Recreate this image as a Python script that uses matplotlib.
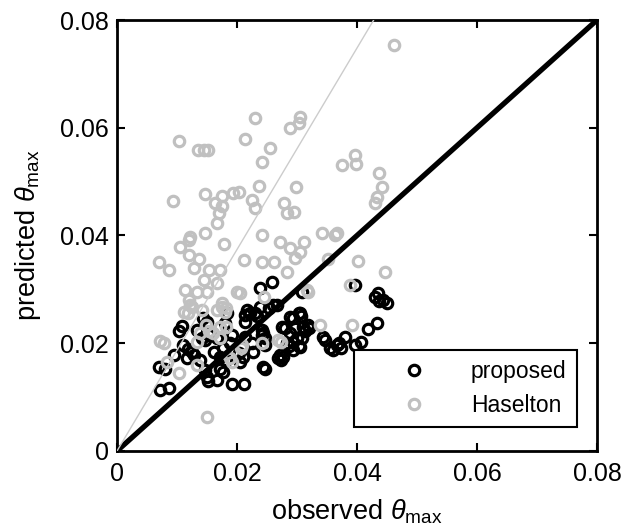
import matplotlib
matplotlib.use("Agg")
import matplotlib.pyplot as plt

plt.rcParams['font.family'] = ['Liberation Sans', 'DejaVu Sans']
plt.rcParams['mathtext.fontset'] = 'custom'
plt.rcParams['mathtext.rm'] = 'Liberation Sans'
plt.rcParams['mathtext.it'] = 'Liberation Sans:italic'

# proposed model (black)
prop_x = [0.0072, 0.0086, 0.0070, 0.0080, 0.0095, 0.0104, 0.0109, 0.0110, 0.0118, 0.0125,
          0.0117, 0.0128, 0.0138, 0.0143, 0.0150, 0.0133, 0.0141, 0.0154, 0.0147, 0.0161,
          0.0167, 0.0183, 0.0180, 0.0147, 0.0150, 0.0151, 0.0167, 0.0171, 0.0177, 0.0172,
          0.0181, 0.0177, 0.0188, 0.0191, 0.0191, 0.0212, 0.0205, 0.0210, 0.0203, 0.0213,
          0.0213, 0.0217, 0.0221, 0.0230, 0.0234, 0.0238, 0.0213, 0.0227, 0.0225, 0.0242,
          0.0242, 0.0244, 0.0247, 0.0243, 0.0247, 0.0247, 0.0254, 0.0260, 0.0267, 0.0258,
          0.0238, 0.0274, 0.0277, 0.0272, 0.0268, 0.0280, 0.0275, 0.0288, 0.0294, 0.0305,
          0.0307, 0.0303, 0.0308, 0.0287, 0.0283, 0.0293, 0.0304, 0.0300, 0.0308, 0.0288,
          0.0297, 0.0310, 0.0318, 0.0314, 0.0320, 0.0305, 0.0293, 0.0343, 0.0347, 0.0355,
          0.0360, 0.0367, 0.0373, 0.0370, 0.0380, 0.0397, 0.0407, 0.0418, 0.0433, 0.0397,
          0.0435, 0.0430, 0.0443, 0.0450, 0.0437]
prop_y = [0.0113, 0.0117, 0.0156, 0.0152, 0.0178, 0.0222, 0.0232, 0.0197, 0.0190, 0.0184,
          0.0172, 0.0178, 0.0169, 0.0247, 0.0240, 0.0225, 0.0209, 0.0216, 0.0206, 0.0184,
          0.0210, 0.0256, 0.0237, 0.0150, 0.0137, 0.0129, 0.0132, 0.0153, 0.0147, 0.0175,
          0.0169, 0.0191, 0.0200, 0.0216, 0.0125, 0.0124, 0.0165, 0.0175, 0.0182, 0.0212,
          0.0252, 0.0262, 0.0256, 0.0256, 0.0250, 0.0267, 0.0240, 0.0184, 0.0200, 0.0225,
          0.0215, 0.0219, 0.0209, 0.0156, 0.0153, 0.0197, 0.0265, 0.0271, 0.0271, 0.0314,
          0.0303, 0.0169, 0.0175, 0.0178, 0.0173, 0.0228, 0.0230, 0.0249, 0.0247, 0.0256,
          0.0250, 0.0256, 0.0295, 0.0194, 0.0200, 0.0202, 0.0194, 0.0209, 0.0210, 0.0219,
          0.0228, 0.0230, 0.0234, 0.0222, 0.0228, 0.0193, 0.0187, 0.0212, 0.0206, 0.0191,
          0.0188, 0.0197, 0.0191, 0.0200, 0.0212, 0.0197, 0.0203, 0.0226, 0.0238, 0.0308,
          0.0293, 0.0286, 0.0280, 0.0275, 0.0278]

# Haselton model (gray)
has_x = [0.0462, 0.0103, 0.0135, 0.0145, 0.0152, 0.0213, 0.0230, 0.0255, 0.0242, 0.0305,
         0.0303, 0.0288, 0.0375, 0.0397, 0.0398, 0.0437, 0.0442, 0.0433, 0.0430, 0.0237,
         0.0203, 0.0298, 0.0225, 0.0230, 0.0278, 0.0283, 0.0295, 0.0093, 0.0147, 0.0175,
         0.0193, 0.0163, 0.0175, 0.0170, 0.0167, 0.0147, 0.0122, 0.0120, 0.0178, 0.0105,
         0.0120, 0.0137, 0.0070, 0.0087, 0.0128, 0.0153, 0.0172, 0.0145, 0.0167, 0.0113,
         0.0133, 0.0150, 0.0200, 0.0120, 0.0125, 0.0112, 0.0142, 0.0175, 0.0167, 0.0180,
         0.0242, 0.0272, 0.0288, 0.0312, 0.0305, 0.0342, 0.0367, 0.0363, 0.0212, 0.0242,
         0.0262, 0.0297, 0.0283, 0.0352, 0.0402, 0.0447, 0.0245, 0.0317, 0.0388, 0.0392,
         0.0078, 0.0072, 0.0084, 0.0103, 0.0121, 0.0118, 0.0134, 0.0138, 0.0133, 0.0148,
         0.0154, 0.0160, 0.0171, 0.0172, 0.0181, 0.0175, 0.0181, 0.0191, 0.0188, 0.0207,
         0.0208, 0.0242, 0.0268, 0.0274, 0.0338, 0.0205, 0.0318, 0.0150]
has_y = [0.0754, 0.0575, 0.0559, 0.0559, 0.0559, 0.0580, 0.0618, 0.0562, 0.0536, 0.0620,
         0.0609, 0.0600, 0.0531, 0.0549, 0.0533, 0.0516, 0.0490, 0.0471, 0.0460, 0.0492,
         0.0481, 0.0490, 0.0466, 0.0451, 0.0460, 0.0442, 0.0444, 0.0464, 0.0477, 0.0473,
         0.0479, 0.0460, 0.0455, 0.0442, 0.0423, 0.0405, 0.0397, 0.0392, 0.0384, 0.0379,
         0.0364, 0.0356, 0.0351, 0.0336, 0.0340, 0.0336, 0.0336, 0.0317, 0.0312, 0.0299,
         0.0295, 0.0295, 0.0295, 0.0280, 0.0267, 0.0258, 0.0262, 0.0275, 0.0262, 0.0258,
         0.0401, 0.0388, 0.0377, 0.0388, 0.0369, 0.0405, 0.0405, 0.0401, 0.0355, 0.0351,
         0.0351, 0.0358, 0.0332, 0.0357, 0.0353, 0.0332, 0.0286, 0.0299, 0.0308, 0.0234,
         0.0200, 0.0204, 0.0166, 0.0145, 0.0271, 0.0256, 0.0203, 0.0219, 0.0160, 0.0234,
         0.0222, 0.0219, 0.0209, 0.0230, 0.0265, 0.0268, 0.0231, 0.0166, 0.0173, 0.0191,
         0.0197, 0.0200, 0.0206, 0.0203, 0.0234, 0.0293, 0.0295, 0.0063]

ticks = [0, 0.02, 0.04, 0.06, 0.08]
tick_labels = ["0", "0.02", "0.04", "0.06", "0.08"]
gray_slope = 1.87

fig = plt.figure(figsize=(6.24, 5.31), dpi=100)
ax = fig.add_axes([0.1875, 0.1507, 0.7692, 0.8116])

gray = '#c0c0c0'
ax.plot(prop_x, prop_y, 'o', mfc='none', mec='black', ms=7.5, mew=2.3, label='proposed')
ax.plot(has_x, has_y, 'o', mfc='none', mec=gray, ms=7.5, mew=2.3, label='Haselton')

ax.plot([0, 0.08], [0, 0.08], color='black', lw=3.8, zorder=3)
ax.plot([0, 0.08 / gray_slope], [0, 0.08], color='#cccccc', lw=1.0, zorder=3)

ax.set_xlim(0, 0.08)
ax.set_ylim(0, 0.08)
ax.set_xticks(ticks)
ax.set_yticks(ticks)
ax.set_xticklabels(tick_labels)
ax.set_yticklabels(tick_labels)
ax.tick_params(direction='in', length=6, width=1.5, labelsize=18, top=True, right=True)
ax.tick_params(axis='x', pad=8)
ax.tick_params(axis='y', pad=6)
for s in ax.spines.values():
    s.set_linewidth(2)

ax.set_xlabel(r'observed $\theta_{\mathrm{max}}$', fontsize=19.5, labelpad=8)
ax.set_ylabel(r'predicted $\theta_{\mathrm{max}}$', fontsize=19.5, labelpad=12)

leg = ax.legend(loc='lower right', bbox_to_anchor=(0.958, 0.0557), fontsize=16.5,
                frameon=True, fancybox=False, edgecolor='black', framealpha=1,
                handlelength=4.3, handletextpad=0.35, borderpad=0.45, labelspacing=0.45,
                borderaxespad=0, numpoints=1)
leg.get_frame().set_linewidth(1.5)

fig.savefig('out.png', dpi=100)
